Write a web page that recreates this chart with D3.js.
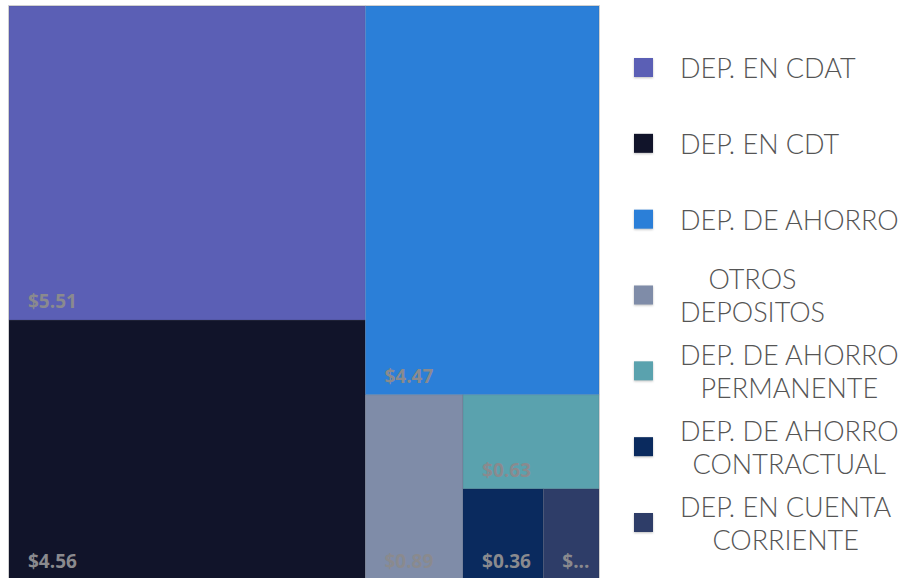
<!DOCTYPE html>
<html>
<head>
<meta charset="utf-8">
<script src="https://cdn.jsdelivr.net/npm/d3@7"></script>
<style>
  body { margin: 0; background: #fff; }
  svg { display: block; }
</style>
</head>
<body>
<div id="chart"></div>
<script>
(function () {
  // chart values
  var categories = ['DEP. EN CDAT', 'DEP. EN CDT', 'DEP. DE AHORRO', 'OTROS DEPOSITOS',
    'DEP. DE AHORRO PERMANENTE', 'DEP. DE AHORRO CONTRACTUAL', 'DEP. EN CUENTA CORRIENTE']
  var values = [5.51, 4.56, 4.47, 0.89, 0.63, 0.36, 0.25]
  // how the legend wraps each name
  var legendLines = [
    ['DEP. EN CDAT'],
    ['DEP. EN CDT'],
    ['DEP. DE AHORRO'],
    ['OTROS', 'DEPOSITOS'],
    ['DEP. DE AHORRO', 'PERMANENTE'],
    ['DEP. DE AHORRO', 'CONTRACTUAL'],
    ['DEP. EN CUENTA', 'CORRIENTE']
  ]
  var colors = ['#5b5fb5', '#11142a', '#2b7fd8', '#7f8ca8', '#5aa2ae', '#0a2a5e', '#2e3d68']

  var width = 903
  var height = 578
  var tm = { left: 9, top: 6, width: 590, height: 574 }

  var svg = d3.select('#chart')
    .append('svg')
    .attr('width', width)
    .attr('height', height)

  var colorScale = d3.scaleOrdinal()
    .domain(categories)
    .range(colors)

  var data = categories.map(function (c, i) {
    return { name: c, value: values[i], lines: legendLines[i] }
  })

  var root = d3.hierarchy({ children: data })
    .sum(function (d) { return d.value || 0 })
    .sort(function (a, b) { return b.value - a.value })

  d3.treemap()
    .tile(d3.treemapSquarify.ratio(1))
    .size([tm.width, tm.height])(root)

  var g = svg.append('g')
    .attr('transform', 'translate(' + tm.left + ',' + tm.top + ')')

  // light frame round the plot
  g.append('rect')
    .attr('x', -0.5)
    .attr('y', -0.5)
    .attr('width', tm.width + 1)
    .attr('height', tm.height + 1)
    .attr('fill', 'none')
    .attr('stroke', '#d9d9d9')

  var cell = g.selectAll('g.cell')
    .data(root.leaves())
    .enter().append('g')
    .attr('class', 'cell')
    .attr('transform', function (d) { return 'translate(' + d.x0 + ',' + d.y0 + ')' })

  cell.append('rect')
    .attr('width', function (d) { return d.x1 - d.x0 })
    .attr('height', function (d) { return d.y1 - d.y0 })
    .attr('fill', function (d) { return colorScale(d.data.name) })
    .attr('stroke', 'rgba(0,0,0,0.08)')
    .attr('stroke-width', 1)

  var fmt = function (v) { return '$' + d3.format('.2f')(v) }

  cell.append('text')
    .attr('x', 19)
    .attr('y', function (d) { return d.y1 - d.y0 - 12 })
    .attr('fill', '#8a8a8e')
    .style('font-family', '"Open Sans", sans-serif')
    .style('font-weight', 'bold')
    .style('font-size', '19px')
    .text(function (d) { return fmt(d.data.value) })
    .each(function (d) {
      var el = d3.select(this)
      var avail = d.x1 - d.x0 - 22
      var full = fmt(d.data.value)
      if (this.getComputedTextLength() <= avail) return
      var n = full.length
      while (n > 1) {
        n--
        el.text(full.slice(0, n) + '...')
        if (this.getComputedTextLength() <= avail) break
      }
    })

  // legend
  var legendY = d3.scaleLinear()
    .domain([0, categories.length - 1])
    .range([67, 522])

  var lineH = 33
  var legend = svg.append('g')
    .selectAll('g')
    .data(data)
    .enter().append('g')
    .attr('transform', function (d, i) { return 'translate(0,' + legendY(i) + ')' })

  legend.append('rect')
    .attr('x', 634)
    .attr('y', -9)
    .attr('width', 19)
    .attr('height', 19)
    .attr('fill', function (d) { return colorScale(d.name) })
    .style('filter', 'drop-shadow(0px 1px 1px rgba(0,0,0,0.25))')

  legend.each(function (d) {
    var item = d3.select(this)
    var n = d.lines.length
    var t = item.append('text')
      .attr('fill', '#555')
      .style('font-family', 'Lato, sans-serif')
      .style('font-weight', 300)
      .style('font-size', '27px')
      .attr('text-anchor', 'middle')
    var spans = t.selectAll('tspan')
      .data(d.lines)
      .enter().append('tspan')
      .attr('y', function (l, j) { return (j - (n - 1) / 2) * lineH + 11 })
      .text(function (l) { return l })
    var w = d3.max(spans.nodes(), function (s) { return s.getComputedTextLength() })
    spans.attr('x', 680 + w / 2)
  })
})()
</script>
</body>
</html>
